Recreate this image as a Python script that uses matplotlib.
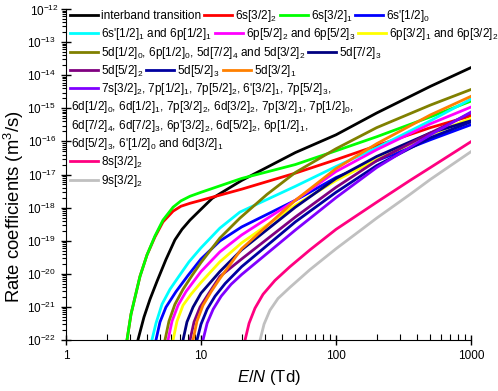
import matplotlib
matplotlib.use('Agg')
import numpy as np
import matplotlib.pyplot as plt
from matplotlib.lines import Line2D
from matplotlib.ticker import LogLocator, NullFormatter, FixedLocator, FixedFormatter, FuncFormatter

plt.rcParams['font.family'] = 'Liberation Sans'
plt.rcParams['mathtext.fontset'] = 'custom'
plt.rcParams['mathtext.rm'] = 'Liberation Sans'
plt.rcParams['mathtext.it'] = 'Liberation Sans:italic'
plt.rcParams['mathtext.default'] = 'regular'

# ---- data: E/N (Td) and rate coefficient (m^3/s) ----
E_interband = [3.41, 3.78, 4.19, 4.72, 5.50, 6.41, 7.23, 8.29, 10, 12.1, 20, 50, 100, 200, 500, 1000]
k_interband = [1e-22, 4.9e-22, 1.7e-21, 5.9e-21, 2.7e-20, 1.06e-19, 2.2e-19, 4.2e-19, 8.9e-19, 1.9e-18,
               6.6e-18, 4.6e-17, 1.58e-16, 7.2e-16, 4.6e-15, 1.7e-14]

E_6s32_2 = [2.83, 3.03, 3.53, 3.98, 4.56, 5.23, 6.21, 7.11, 8.29, 10, 20, 50, 100, 200, 500, 1000]
k_6s32_2 = [1e-22, 6.0e-22, 8.3e-21, 3.7e-20, 1.3e-19, 3.7e-19, 7.8e-19, 1.1e-18, 1.35e-18, 1.66e-18,
            3.6e-18, 1.1e-17, 2.8e-17, 7.4e-17, 2.6e-16, 5.9e-16]

E_6s32_1 = [2.83, 3.03, 3.53, 3.98, 4.56, 5.23, 6.21, 7.11, 8.29, 10, 20, 50, 100, 200, 500, 1000]
k_6s32_1 = [1e-22, 6.0e-22, 8.3e-21, 3.7e-20, 1.39e-19, 4.2e-19, 1.03e-18, 1.6e-18, 2.2e-18, 2.9e-18,
            7.6e-18, 2.0e-17, 5.2e-17, 1.38e-16, 5.5e-16, 1.65e-15]

E_6sp12_0 = [4.64, 4.97, 5.50, 6.53, 8.01, 10, 13.8, 20, 50, 100, 200, 500, 1000]
k_6sp12_0 = [1e-22, 3.5e-22, 9.8e-22, 2.9e-21, 8.9e-21, 2.8e-20, 9.8e-20, 2.6e-19,
             1.66e-18, 8.1e-18, 2.6e-17, 1.12e-16, 3.2e-16]

E_6sp12_1 = [4.33, 4.64, 5.14, 5.89, 6.76, 8.15, 10, 13.8, 19.4, 50, 100, 200, 500, 1000]
k_6sp12_1 = [1e-22, 3.2e-22, 1.2e-21, 3.4e-21, 7.7e-21, 2.3e-20, 6.1e-20, 2.4e-19, 7.3e-19,
             4.4e-18, 1.74e-17, 6.4e-17, 4.2e-16, 1.9e-15]

E_6p52 = [5.70, 6.10, 6.76, 7.74, 10, 13.8, 20, 50, 100, 200, 500, 1000]
k_6p52 = [1e-22, 3.7e-22, 1.12e-21, 2.9e-21, 1.17e-20, 4.6e-20, 1.49e-19, 1.66e-18,
          1.23e-17, 5.6e-17, 3.4e-16, 1.09e-15]

E_6p32 = [6.21, 6.64, 7.36, 8.43, 10, 13.8, 20, 50, 100, 200, 500, 1000]
k_6p32 = [1e-22, 3.7e-22, 1.12e-21, 2.4e-21, 5.5e-21, 2.3e-20, 8.6e-20, 1.18e-18,
          6.6e-18, 2.8e-17, 1.58e-16, 5.0e-16]

E_5d12 = [5.41, 5.79, 6.41, 7.36, 8.58, 10, 13.8, 19.4, 30.8, 50, 100, 200, 500, 1000]
k_5d12 = [1e-22, 3.7e-22, 1.2e-21, 3.4e-21, 8.9e-21, 2.2e-20, 1.2e-19, 4.8e-19, 2.5e-18,
          1.15e-17, 6.0e-17, 2.6e-16, 1.25e-15, 3.7e-15]

E_5d72_3 = [7.36, 7.87, 8.73, 10, 13.8, 20, 50, 100, 200, 500, 1000]
k_5d72_3 = [1e-22, 3.5e-22, 9.8e-22, 2.6e-21, 1.17e-20, 5.3e-20, 1.03e-18, 7.6e-18,
            3.5e-17, 1.8e-16, 4.2e-16]

E_5d52_2 = [8.29, 8.88, 9.83, 11.3, 13.8, 20, 50, 100, 200, 500, 1000]
k_5d52_2 = [1e-22, 3.5e-22, 9.8e-22, 2.4e-21, 8.3e-21, 2.8e-20, 5.2e-19, 4.1e-18,
            2.6e-17, 1.8e-16, 7.2e-16]

E_5d52_3 = [9.34, 10, 11.1, 12.7, 15.1, 20, 50, 100, 200, 500, 1000]
k_5d52_3 = [1e-22, 3.0e-22, 8.5e-22, 2.1e-21, 5.1e-21, 1.64e-20, 3.7e-19, 2.9e-18,
            1.86e-17, 1.29e-16, 3.9e-16]

E_5d32_1 = [8.73, 9.34, 10.35, 11.9, 13.8, 20, 50, 100, 200, 500, 1000]
k_5d32_1 = [1e-22, 3.7e-22, 1.12e-21, 2.9e-21, 7.2e-21, 5.7e-20, 1.66e-18, 1.51e-17,
            8.5e-17, 6.3e-16, 2.3e-15]

E_7s = [10.35, 11.1, 12.3, 14.1, 16.7, 20, 50, 100, 200, 500, 1000]
k_7s = [1e-22, 3.2e-22, 8.5e-22, 2.1e-21, 4.8e-21, 9.5e-21, 2.1e-19, 2.0e-18,
        1.62e-17, 1.58e-16, 7.7e-16]

E_8s = [21.2, 22.7, 25.1, 28.8, 35.3, 45.6, 64.2, 100, 200, 353, 500, 1000]
k_8s = [1e-22, 3.2e-22, 9.1e-22, 2.4e-21, 6.3e-21, 1.64e-20, 5.3e-20, 2.2e-19,
        1.45e-18, 6.6e-18, 1.62e-17, 9.8e-17]

E_9s = [27.4, 29.3, 32.4, 37.2, 45.6, 64.2, 100, 200, 353, 500, 1000]
k_9s = [1e-22, 3.0e-22, 7.9e-22, 1.8e-21, 3.9e-21, 1.34e-20, 5.7e-20, 4.8e-19,
        2.5e-18, 7.1e-18, 4.9e-17]

series = [
    (E_interband, k_interband, '#000000'),
    (E_6s32_2, k_6s32_2, '#FF0000'),
    (E_6s32_1, k_6s32_1, '#00FF00'),
    (E_6sp12_0, k_6sp12_0, '#0000FF'),
    (E_6sp12_1, k_6sp12_1, '#00FFFF'),
    (E_6p52, k_6p52, '#FF00FF'),
    (E_6p32, k_6p32, '#FFFF00'),
    (E_5d12, k_5d12, '#808000'),
    (E_5d72_3, k_5d72_3, '#000080'),
    (E_5d52_2, k_5d52_2, '#800080'),
    (E_5d52_3, k_5d52_3, '#0000A0'),
    (E_5d32_1, k_5d32_1, '#FF8000'),
    (E_7s, k_7s, '#8000FF'),
    (E_8s, k_8s, '#FF0080'),
    (E_9s, k_9s, '#C0C0C0'),
]

# legend rows, as laid out in the original (colour None = continuation line)
legend_rows = [
    [('#000000', 'interband transition'), ('#FF0000', '6s[3/2]$_2$'),
     ('#00FF00', '6s[3/2]$_1$'), ('#0000FF', "6s'[1/2]$_0$")],
    [('#00FFFF', "6s'[1/2]$_1$ and 6p[1/2]$_1$"), ('#FF00FF', '6p[5/2]$_2$ and 6p[5/2]$_3$'),
     ('#FFFF00', '6p[3/2]$_1$ and 6p[3/2]$_2$')],
    [('#808000', '5d[1/2]$_0$, 6p[1/2]$_0$, 5d[7/2]$_4$ and 5d[3/2]$_2$'),
     ('#000080', '5d[7/2]$_3$')],
    [('#800080', '5d[5/2]$_2$'), ('#0000A0', '5d[5/2]$_3$'), ('#FF8000', '5d[3/2]$_1$')],
    [('#8000FF', "7s[3/2]$_2$, 7p[1/2]$_1$, 7p[5/2]$_2$, 6'[3/2]$_1$, 7p[5/2]$_3$,")],
    [(None, '6d[1/2]$_0$, 6d[1/2]$_1$, 7p[3/2]$_2$, 6d[3/2]$_2$, 7p[3/2]$_1$, 7p[1/2]$_0$,')],
    [(None, "6d[7/2]$_4$, 6d[7/2]$_3$, 6p'[3/2]$_2$, 6d[5/2]$_2$, 6p[1/2]$_1$,")],
    [(None, "6d[5/2]$_3$, 6'[1/2]$_0$ and 6d[3/2]$_1$")],
    [('#FF0080', '8s[3/2]$_2$')],
    [('#C0C0C0', '9s[3/2]$_2$')],
]

W, H = 498, 391
fig = plt.figure(figsize=(W / 100, H / 100), dpi=100)
ax = fig.add_axes([66 / W, 51 / H, 405 / W, 331 / H])

for E, k, c in series:
    ax.plot(E, k, color=c, lw=2.0, solid_joinstyle='round')

ax.set_xscale('log')
ax.set_yscale('log')
ax.set_xlim(1, 1000)
ax.set_ylim(1e-22, 1e-12)
ax.spines['top'].set_visible(False)
ax.spines['right'].set_visible(False)

ax.xaxis.set_major_locator(FixedLocator([1, 10, 100, 1000]))
ax.xaxis.set_major_formatter(FixedFormatter(['1', '10', '100', '1000']))
ax.xaxis.set_minor_locator(LogLocator(base=10, subs=np.arange(2, 10), numticks=20))
ax.xaxis.set_minor_formatter(NullFormatter())
ax.yaxis.set_major_locator(LogLocator(base=10, numticks=20))
ax.yaxis.set_minor_locator(LogLocator(base=10, subs=np.arange(2, 10), numticks=20))
ax.yaxis.set_minor_formatter(NullFormatter())


def ylab(v, pos):
    p = int(round(np.log10(v)))
    if p >= -12:
        return ''  # the top label is placed by hand just below, to stay inside the figure
    return '$10^{%d}$' % p


ax.yaxis.set_major_formatter(FuncFormatter(ylab))

ax.tick_params(which='major', direction='inout', length=7, width=1, labelsize=8.5)
ax.tick_params(axis='x', which='minor', direction='in', length=4, width=0.8)
ax.tick_params(axis='y', which='minor', direction='out', length=3, width=0.8)
ax.tick_params(axis='x', which='major', pad=4)

ax.annotate('$10^{-12}$', xy=(0, 1e-12), xycoords=('axes fraction', 'data'),
            xytext=(-5.5, -2), textcoords='offset points', ha='right', va='center',
            fontsize=8.5, annotation_clip=False)

ax.set_xlabel(r'$\mathit{E/N}$ (Td)', fontsize=12, labelpad=4)
ax.set_ylabel('Rate coefficients (m$^3$/s)', fontsize=13.3, va='center', ha='center')
ax.yaxis.set_label_coords((14 - 66) / 405, (340 - 207) / 331)

# hand-built legend, flowing like the original
renderer = fig.canvas.get_renderer()
row_y0, row_dy = 15, 18.3
for i, row in enumerate(legend_rows):
    y = row_y0 + i * row_dy
    x = 70
    for color, label in row:
        if color is not None:
            fig.add_artist(Line2D([x / W, (x + 28) / W], [1 - y / H, 1 - y / H],
                                  color=color, lw=2.0, transform=fig.transFigure))
            x += 31
        else:
            x += 1
        t = fig.text(x / W, 1 - (y + 4) / H, label, fontsize=8.5, va='baseline', ha='left')
        bb = t.get_window_extent(renderer)
        x += bb.width + 3

fig.savefig('out.png', dpi=100)
